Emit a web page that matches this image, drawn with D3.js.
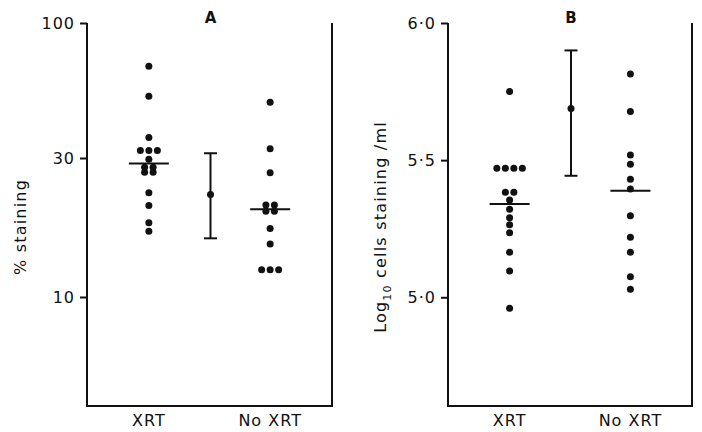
<!DOCTYPE html>
<html>
  <head>
    <meta charset="utf-8">
    <style>
      body { margin: 0; background: #fff; }
      text { font-family: "DejaVu Sans", sans-serif; fill: #111; }
      .frame { stroke: #111; stroke-width: 2; fill: none; }
      .median, .err { stroke: #111; stroke-width: 2; }
      .dot { fill: #111; }
    </style>
    <script src="https://cdnjs.cloudflare.com/ajax/libs/d3/7.8.5/d3.min.js" type="text/javascript"></script>
  </head>
  <body>
    <svg width="702" height="432" id="SVG"></svg>
    <script>
      var groups = ["XRT", "No XRT"];

      // panel A : % staining, log axis
      var pctXRT = [68, 52, 36, 32.1, 32.1, 32.1, 29.7, 27.9, 27.9, 26.8, 26.8, 22.8, 20.6, 18.0, 16.8];
      var pctNoXRT = [49.3, 32.6, 26.7, 20.7, 20.7, 19.7, 19.7, 17.2, 15.2, 12.4, 12.4, 12.4];
      var pctMedian = [28.7, 20.0];
      var pctDiff = [15.9, 22.5, 31.3];   // low, mean, high
      var pctTicks = [10, 30, 100];
      var pctTickLabels = ["10", "30", "100"];

      // panel B : log10 cells staining / ml
      var logXRT = [5.75, 5.47, 5.47, 5.47, 5.47, 5.383, 5.383, 5.355, 5.321, 5.29, 5.264, 5.235, 5.164, 5.096, 4.96];
      var logNoXRT = [5.814, 5.677, 5.519, 5.485, 5.43, 5.395, 5.297, 5.219, 5.164, 5.075, 5.029];
      var logMedian = [5.34, 5.388];
      var logDiff = [5.443, 5.688, 5.90];
      var logTicks = [5.0, 5.5, 6.0];
      var logTickLabels = ["5\u00b70", "5\u00b75", "6\u00b70"];

      var svg = d3.select("#SVG");
      var plotTop = 23, plotBottom = 406;

      // spread equal values side by side
      function spread(values) {
        var counts = {}, seen = {};
        values.forEach(function(v) { counts[v] = (counts[v] || 0) + 1 });
        return values.map(function(v) {
          seen[v] = seen[v] === undefined ? 0 : seen[v] + 1;
          return { value: v, offset: (seen[v] - (counts[v] - 1) / 2) * 8.5 };
        });
      }

      function drawPanel(opt) {
        var g = svg.append("g");
        var x = d3.scalePoint().domain(groups).range([opt.left, opt.right]).padding(0.51);
        var y = opt.y;

        // frame
        g.append("line").attr("class", "frame")
         .attr("x1", opt.left).attr("x2", opt.right).attr("y1", plotBottom).attr("y2", plotBottom);
        g.append("line").attr("class", "frame")
         .attr("x1", opt.right).attr("x2", opt.right).attr("y1", plotTop).attr("y2", plotBottom + 1);

        var axis = g.append("g")
          .attr("transform", "translate(" + opt.left + ",0)")
          .call(d3.axisLeft(y).tickValues(opt.ticks)
                  .tickFormat(function(d, i) { return opt.tickLabels[i] })
                  .tickSize(7).tickSizeOuter(0).tickPadding(5));
        axis.select(".domain").attr("stroke", "#111").attr("stroke-width", 2)
            .attr("d", "M0," + (plotBottom + 1) + "V" + plotTop);
        axis.selectAll(".tick line").attr("stroke", "#111").attr("stroke-width", 2);
        axis.selectAll(".tick text").attr("font-size", 16).attr("letter-spacing", 1)
            .attr("font-family", "DejaVu Sans").attr("fill", "#111");

        // dots
        [opt.xrt, opt.noxrt].forEach(function(vals, k) {
          g.selectAll(".dot" + k)
           .data(spread(vals))
           .enter()
           .append("circle")
           .attr("class", "dot")
           .attr("r", 3.5)
           .attr("cx", function(d) { return x(groups[k]) + d.offset })
           .attr("cy", function(d) { return y(d.value) });
        });

        // medians
        g.selectAll(".median")
         .data(opt.median)
         .enter()
         .append("line")
         .attr("class", "median")
         .attr("x1", function(d, i) { return x(groups[i]) - 20 })
         .attr("x2", function(d, i) { return x(groups[i]) + 20 })
         .attr("y1", function(d) { return y(d) })
         .attr("y2", function(d) { return y(d) });

        // difference bar between the groups
        var ex = (x(groups[0]) + x(groups[1])) / 2 + 1;
        g.append("line").attr("class", "err")
         .attr("x1", ex).attr("x2", ex).attr("y1", y(opt.diff[0])).attr("y2", y(opt.diff[2]));
        [opt.diff[0], opt.diff[2]].forEach(function(v) {
          g.append("line").attr("class", "err")
           .attr("x1", ex - 6.5).attr("x2", ex + 6.5).attr("y1", y(v)).attr("y2", y(v));
        });
        g.append("circle").attr("class", "dot").attr("r", 3.5)
         .attr("cx", ex).attr("cy", y(opt.diff[1]));

        // category labels
        g.selectAll(".cat")
         .data(groups)
         .enter()
         .append("text")
         .attr("x", function(d) { return x(d) })
         .attr("y", 426)
         .attr("text-anchor", "middle")
         .attr("font-size", 16)
         .attr("letter-spacing", 1)
         .text(function(d) { return d });

        // panel letter
        g.append("text")
         .attr("x", ex).attr("y", 23)
         .attr("text-anchor", "middle")
         .attr("font-size", 15)
         .attr("font-weight", 600)
         .text(opt.letter);

        // y title
        var t = g.append("text")
         .attr("transform", "translate(" + opt.titleX + ",227) rotate(-90)")
         .attr("text-anchor", "middle")
         .attr("font-size", 16)
         .attr("letter-spacing", 1.2);
        opt.title(t);
      }

      drawPanel({
        left: 87, right: 332, letter: "A", titleX: 26,
        y: d3.scaleLog().domain([4, 10, 30, 100]).range([plotBottom, 297, 158, plotTop]),
        ticks: pctTicks, tickLabels: pctTickLabels,
        xrt: pctXRT, noxrt: pctNoXRT, median: pctMedian, diff: pctDiff,
        title: function(t) { t.text("% staining") }
      });

      drawPanel({
        left: 448, right: 692, letter: "B", titleX: 386,
        y: d3.scaleLinear().domain([4.6, 6.0]).range([plotBottom + 1, plotTop]),
        ticks: logTicks, tickLabels: logTickLabels,
        xrt: logXRT, noxrt: logNoXRT, median: logMedian, diff: logDiff,
        title: function(t) {
          t.append("tspan").text("Log");
          t.append("tspan").attr("font-size", 11).attr("dy", 5).text("10");
          t.append("tspan").attr("dy", -5).text(" cells staining /ml");
        }
      });
    </script>
  </body>
</html>
